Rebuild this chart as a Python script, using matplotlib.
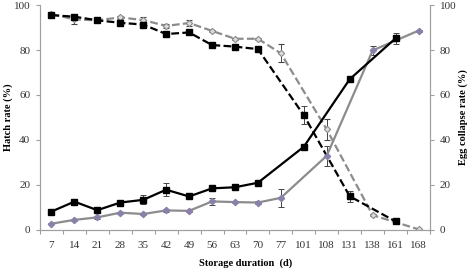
import matplotlib.pyplot as plt
import numpy as np

plt.rcParams["font.family"] = ["Liberation Serif", "DejaVu Serif"]

# storage duration categories (d)
days = ["7", "14", "21", "28", "35", "42", "49", "56", "63", "70", "77",
        "101", "108", "131", "138", "161", "168"]

# hatch rate (%) - black dashed, squares
hatch_a = [95.5, 94.8, 93.2, 92.1, 91.3, 87.1, 87.8, 82.2, 81.5, 80.4, None,
           51.0, None, 15.0, None, 3.8, None]
hatch_a_err = [0.8, 0.8, 0.5, 0.8, 1.0, 1.5, 0.5, 0.5, 0.5, 0.5, None,
               4.0, None, 2.5, None, 0.8, None]

# hatch rate (%) - gray dashed, open markers
hatch_b = [96.0, 93.6, 93.2, 94.5, 93.3, 90.7, 92.0, 88.5, 85.0, 85.0, 78.5,
           None, 44.7, None, 6.6, None, 0.3]
hatch_b_err = [0.5, 2.0, 0.5, 0.5, 1.5, 1.0, 1.5, 0.5, 0.5, 0.5, 4.0,
               None, 4.5, None, 0.5, None, 0.3]

# egg collapse rate (%) - black solid, squares
coll_a = [8.2, 12.6, 8.8, 12.2, 13.4, 17.9, 14.9, 18.5, 19.0, 21.0, None,
          37.0, None, 67.0, None, 85.2, None]
coll_a_err = [0.6, 0.8, 0.6, 0.8, 2.0, 3.0, 0.8, 1.0, 0.8, 0.6, None,
              1.0, None, 1.0, None, 2.5, None]

# egg collapse rate (%) - gray solid, purple diamonds
coll_b = [2.8, 4.5, 5.6, 7.7, 7.1, 8.7, 8.5, 12.7, 12.4, 12.2, 14.3,
          None, 33.0, None, 79.8, None, 88.6]
coll_b_err = [0.3, 0.5, 0.5, 0.5, 0.5, 0.5, 0.5, 1.5, 0.5, 0.5, 4.0,
              None, 4.5, None, 2.0, None, 0.5]


def valid(vals, errs):
    idx = [i for i, v in enumerate(vals) if v is not None]
    return (np.array(idx), np.array([vals[i] for i in idx]),
            np.array([errs[i] for i in idx]))


fig = plt.figure(figsize=(4.72, 2.78), dpi=100)
ax = fig.add_axes([0.0847, 0.1727, 0.8263, 0.8093])
ax2 = ax.twinx()

gray = "#8c8c8c"
x, y, e = valid(coll_b, coll_b_err)
ax2.errorbar(x, y, yerr=e, color=gray, lw=1.6, marker="D", ms=3.2,
             mfc="#8b80aa", mec="#8b80aa", ecolor="#444444", elinewidth=0.7,
             capsize=2.5, capthick=0.7, zorder=2)
x, y, e = valid(coll_a, coll_a_err)
ax2.errorbar(x, y, yerr=e, color="black", lw=1.6, marker="s", ms=4.2,
             ecolor="#444444", elinewidth=0.7, capsize=2.5, capthick=0.7,
             zorder=3)
x, y, e = valid(hatch_b, hatch_b_err)
ax.errorbar(x, y, yerr=e, color=gray, lw=1.6, ls=(0, (3.5, 1.5)),
            marker="D", ms=3.2, mfc="#dddddd", mec=gray, mew=0.8,
            ecolor="#444444", elinewidth=0.7, capsize=2.5, capthick=0.7,
            zorder=2)
x, y, e = valid(hatch_a, hatch_a_err)
ax.errorbar(x, y, yerr=e, color="black", lw=1.6, ls=(0, (3.5, 1.5)),
            marker="s", ms=4.2, ecolor="#444444", elinewidth=0.7,
            capsize=2.5, capthick=0.7, zorder=3)

for a in (ax, ax2):
    a.set_ylim(0, 100)
    a.set_yticks([0, 20, 40, 60, 80, 100])
    a.spines["top"].set_visible(False)
    for s in a.spines.values():
        s.set_color("#a0a0a0")
        s.set_linewidth(0.8)
    a.tick_params(axis="y", colors="#a0a0a0", labelcolor="#333333",
                  labelsize=8, length=3, width=0.8, pad=4)

ax.set_xlim(-0.5, len(days) - 0.5)
ax.set_xticks(range(len(days)))
ax.set_xticklabels(days, fontsize=8, color="#333333")
ax.tick_params(axis="x", length=0, pad=8)
ax.set_xticks(np.arange(-0.5, len(days)), minor=True)
ax.tick_params(axis="x", which="minor", length=3, width=0.8, colors="#a0a0a0")

ax.set_xlabel("Storage duration  (d)", fontsize=7.5, fontweight="bold")
ax.set_ylabel("Hatch rate (%)", fontsize=7.5, fontweight="bold")
ax2.set_ylabel("Egg collapse rate (%)", fontsize=7.5, fontweight="bold")
ax.xaxis.set_label_coords(0.528, -0.125)
ax.yaxis.set_label_coords(-0.068, 0.5)
ax2.yaxis.set_label_coords(1.074, 0.5)

fig.savefig("out.png", dpi=100)
